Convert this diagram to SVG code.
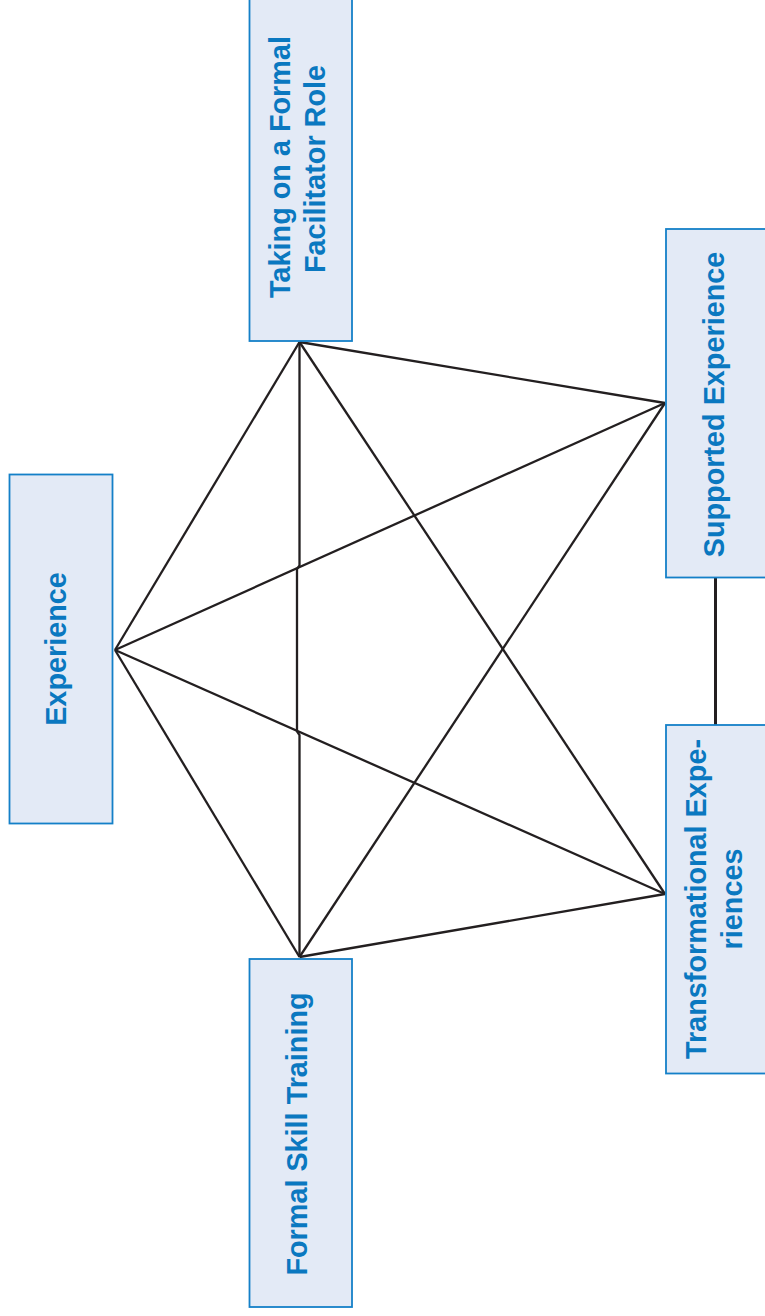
<svg xmlns="http://www.w3.org/2000/svg" width="765" height="1316" viewBox="0 0 765 1316">
<style>
.box{fill:#E3EAF6;stroke:#1480C8;stroke-width:1.8}
.lbl{font-family:"Liberation Sans",Arial,sans-serif;font-weight:bold;font-size:28.8px;fill:#0A78C0;text-anchor:middle}
.ln{stroke:#231F20;stroke-width:2.3;fill:none;stroke-linejoin:miter}
</style>
<rect width="765" height="1316" fill="#FFFFFF"/>
<g id="connectors">
<line class="ln" x1="115" y1="650" x2="299.5" y2="342"/>
<line class="ln" x1="115" y1="650" x2="665" y2="403"/>
<line class="ln" x1="115" y1="650" x2="665" y2="894"/>
<line class="ln" x1="115" y1="650" x2="299.5" y2="957"/>
<line class="ln" x1="299.5" y1="342" x2="665" y2="403"/>
<line class="ln" x1="299.5" y1="342" x2="665" y2="894"/>
<line class="ln" x1="299.5" y1="957" x2="665" y2="403"/>
<line class="ln" x1="299.5" y1="957" x2="665" y2="894"/>
<path class="ln" d="M299.5,342 V565.5 L297,569 V731.5 L299.5,735 V957"/>
<line x1="715.5" y1="578" x2="715.5" y2="725" stroke="#231F20" stroke-width="3"/>
</g>
<g id="node-experience">
<rect class="box" x="9.5" y="474.5" width="103" height="349"/>
<text class="lbl" transform="translate(66,649) rotate(-90)">Experience</text>
</g>
<g id="node-facilitator">
<rect class="box" x="249.5" y="-8" width="102.5" height="349"/>
<text class="lbl" transform="translate(289.5,167) rotate(-90)">Taking on a Formal</text>
<text class="lbl" transform="translate(325,169) rotate(-90)">Facilitator Role</text>
</g>
<g id="node-supported">
<rect class="box" x="666" y="229" width="104" height="348.5"/>
<text class="lbl" transform="translate(723.5,404.5) rotate(-90)">Supported Experience</text>
</g>
<g id="node-transformational">
<rect class="box" x="666" y="725" width="104" height="348.5"/>
<text class="lbl" transform="translate(706,899) rotate(-90)">Transformational Expe-</text>
<text class="lbl" transform="translate(741.5,899) rotate(-90)">riences</text>
</g>
<g id="node-formal-skill">
<rect class="box" x="249.5" y="959" width="102.5" height="348"/>
<text class="lbl" transform="translate(306.5,1134) rotate(-90)">Formal Skill Training</text>
</g>
</svg>
